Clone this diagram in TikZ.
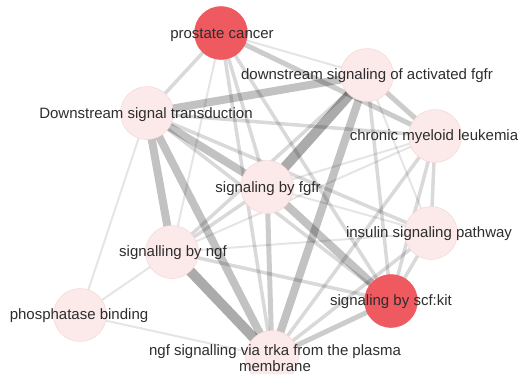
\documentclass[tikz,border=0pt]{standalone}
\usepackage{fontspec}
\setmainfont{Liberation Sans}
\usetikzlibrary{backgrounds}
\definecolor{nodepink}{RGB}{252,234,234}
\definecolor{noderim}{RGB}{245,215,215}
\definecolor{nodered}{RGB}{238,90,95}
\definecolor{labelgray}{RGB}{45,45,45}
\tikzset{
  term/.style={circle,minimum size=53pt,inner sep=0pt,fill=nodepink,draw=noderim,line width=0.5pt},
  hot/.style={term,fill=nodered,draw=nodered},
  lbl/.style={font=\fontsize{15}{16}\selectfont,text=labelgray,inner sep=0pt,align=center},
  ea/.style={draw=black,line width=2pt,opacity=0.10},
  eb/.style={draw=black,line width=3.5pt,opacity=0.15},
  ec/.style={draw=black,line width=5pt,opacity=0.20},
  ed/.style={draw=black,line width=8pt,opacity=0.24},
  ee/.style={draw=black,line width=10pt,opacity=0.33}
}
\begin{document}
\begin{tikzpicture}[x=1pt,y=-1pt]
\useasboundingbox (0,0) rectangle (526,373);
\node[hot]  (PC)   at (221,33)  {};
\node[term] (DSA)  at (367,75)  {};
\node[term] (DST)  at (147,113) {};
\node[term] (CML)  at (435,136) {};
\node[term] (SF)   at (267,187) {};
\node[term] (ISP)  at (431,233) {};
\node[hot]  (SCF)  at (391,301) {};
\node[term] (SNGF) at (172,252) {};
\node[term] (PB)   at (80,315)  {};
\node[term] (NGFT) at (272,357) {};
\begin{scope}[on background layer]
\draw[ea] (PC.center) -- (DSA.center);
\draw[ec] (PC.center) -- (CML.center);
\draw[eb] (PC.center) -- (DST.center);
\draw[ea] (PC.center) -- (SNGF.center);
\draw[eb] (PC.center) -- (SF.center);
\draw[eb] (PC.center) -- (NGFT.center);
\draw[eb] (PC.center) -- (SCF.center);
\draw[ed] (DST.center) -- (DSA.center);
\draw[eb] (DST.center) -- (CML.center);
\draw[ed] (DST.center) -- (SF.center);
\draw[ed] (DST.center) -- (SNGF.center);
\draw[ed] (DST.center) -- (NGFT.center);
\draw[ea] (DST.center) -- (PB.center);
\draw[eb] (DST.center) -- (ISP.center);
\draw[eb] (DST.center) -- (SCF.center);
\draw[ee] (DSA.center) -- (SF.center);
\draw[ec] (DSA.center) -- (CML.center);
\draw[eb] (DSA.center) -- (SNGF.center);
\draw[ed] (DSA.center) -- (NGFT.center);
\draw[eb] (DSA.center) -- (SCF.center);
\draw[ea] (DSA.center) -- (ISP.center);
\draw[ea] (CML.center) -- (SF.center);
\draw[ea] (CML.center) -- (SNGF.center);
\draw[eb] (CML.center) -- (ISP.center);
\draw[eb] (CML.center) -- (SCF.center);
\draw[eb] (CML.center) -- (NGFT.center);
\draw[eb] (SF.center) -- (SNGF.center);
\draw[ec] (SF.center) -- (NGFT.center);
\draw[ed] (SF.center) -- (SCF.center);
\draw[ea] (SF.center) -- (ISP.center);
\draw[ee] (SNGF.center) -- (NGFT.center);
\draw[ea] (SNGF.center) -- (ISP.center);
\draw[eb] (SNGF.center) -- (SCF.center);
\draw[ea] (SNGF.center) -- (PB.center);
\draw[ea] (NGFT.center) -- (PB.center);
\draw[eb] (NGFT.center) -- (ISP.center);
\draw[ec] (NGFT.center) -- (SCF.center);
\draw[eb] (ISP.center) -- (SCF.center);
\end{scope}
\node[lbl] (PCl)   at (222,35)  {prostate cancer};
\node[lbl] (DSAl)  at (367,76)  {downstream signaling of activated fgfr};
\node[lbl] (DSTl)  at (146,115) {Downstream signal transduction};
\node[lbl] (CMLl)  at (434,137) {chronic myeloid leukemia};
\node[lbl] (SFl)   at (268,189) {signaling by fgfr};
\node[lbl] (ISPl)  at (429,234) {insulin signaling pathway};
\node[lbl] (SCFl)  at (391,302) {signaling by scf:kit};
\node[lbl] (SNGFl) at (173,253) {signalling by ngf};
\node[lbl] (PBl)   at (79,316)  {phosphatase binding};
\node[lbl] (NGFTl) at (275,358) {ngf signalling via trka from the plasma\\membrane};
\end{tikzpicture}
\end{document}
